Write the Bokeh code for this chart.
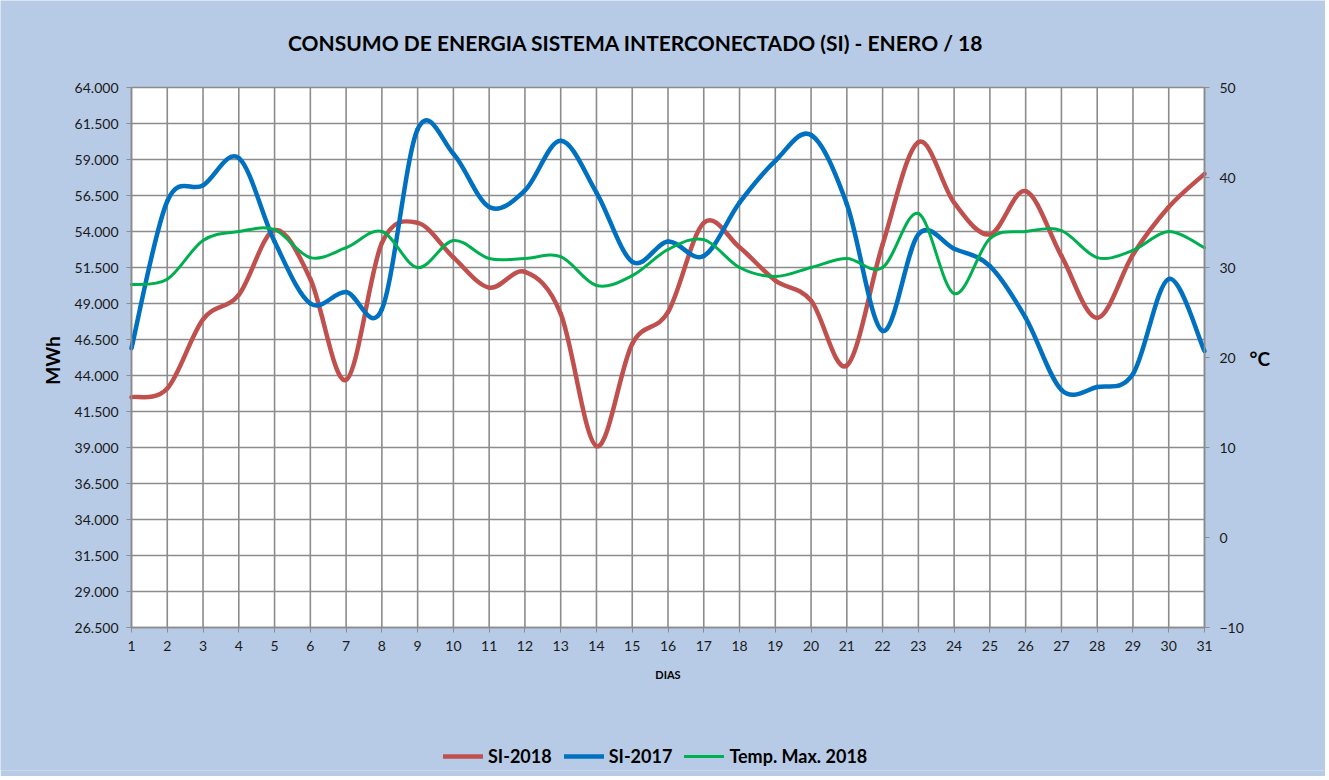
import math
from bokeh.plotting import figure
from bokeh.models import (Range1d, LinearAxis, FixedTicker, Legend, LegendItem,
                          ColumnDataSource, BoxAnnotation, Label)
from bokeh.embed import file_html
from bokeh.resources import INLINE

days = list(range(1, 32))
si_2018 = [42500, 43100, 47900, 49600, 54100, 50700, 43700, 53200, 54600, 52200,
           50100, 51200, 48300, 39100, 46200, 48400, 54600, 52900, 50600, 49200,
           44700, 53100, 60200, 56000, 53800, 56800, 52300, 48000, 52400, 55700, 58000]
si_2017 = [45900, 56100, 57200, 59100, 53300, 49000, 49800, 48600, 61100, 59400,
           55700, 56850, 60300, 56700, 51900, 53300, 52300, 56000, 58900, 60700,
           55900, 47100, 53800, 52800, 51600, 48000, 43000, 43200, 44100, 50700, 45700]
temp_max = [28.1, 28.7, 33.0, 34.0, 34.2, 31.1, 32.2, 34.0, 30.0, 33.0,
            31.0, 31.0, 31.2, 28.0, 29.1, 32.0, 33.1, 30.0, 29.0, 30.0,
            31.0, 30.0, 36.0, 27.1, 33.2, 34.0, 34.1, 31.1, 31.9, 34.0, 32.2]
mwh_ticks = [26500, 29000, 31500, 34000, 36500, 39000, 41500, 44000,
             46500, 49000, 51500, 54000, 56500, 59000, 61500, 64000]
mwh_labels = ["26.500", "29.000", "31.500", "34.000", "36.500", "39.000", "41.500", "44.000",
              "46.500", "49.000", "51.500", "54.000", "56.500", "59.000", "61.500", "64.000"]
temp_ticks = [-10, 0, 10, 20, 30, 40, 50]
series_names = ["SI-2018", "SI-2017", "Temp. Max. 2018"]
series_colors = ["#c0504d", "#0070c0", "#00b050"]

TITLE = "CONSUMO DE ENERGIA SISTEMA INTERCONECTADO (SI) -  ENERO / 18"
FONT = "Lato"
GRID = "#8c8c8c"
TXT = "#1a1a1a"
BG = "#b7cbe6"

# layout (pixels)
PLOT_W, PLOT_H = 1073, 540     # white plotting area
PAD_L, PAD_R = 131, 121        # room for the value axes
PAD_B = 143                    # room below for day labels, DIAS and legend
PAD_T = 87                     # room above for the title


def smooth_source(xs, ys):
    """Cubic Bezier segments (Catmull-Rom control points) between the data points,
    like a spreadsheet 'smoothed line'."""
    n = len(xs)
    d = dict(x0=[], y0=[], x1=[], y1=[], cx0=[], cy0=[], cx1=[], cy1=[])
    for i in range(n - 1):
        xp, yp = (xs[i - 1], ys[i - 1]) if i > 0 else (xs[i], ys[i])
        xn, yn = (xs[i + 2], ys[i + 2]) if i + 2 < n else (xs[i + 1], ys[i + 1])
        d["x0"].append(xs[i]); d["y0"].append(ys[i])
        d["x1"].append(xs[i + 1]); d["y1"].append(ys[i + 1])
        d["cx0"].append(xs[i] + (xs[i + 1] - xp) / 6.0)
        d["cy0"].append(ys[i] + (ys[i + 1] - yp) / 6.0)
        d["cx1"].append(xs[i + 1] - (xn - xs[i]) / 6.0)
        d["cy1"].append(ys[i + 1] - (yn - ys[i]) / 6.0)
    return ColumnDataSource(d)


x_lo, x_hi = days[0], days[-1]
y_lo, y_hi = mwh_ticks[0], mwh_ticks[-1]
t_lo, t_hi = temp_ticks[0], temp_ticks[-1]
dx = (x_hi - x_lo) / PLOT_W          # days per pixel
dy = (y_hi - y_lo) / PLOT_H          # MWh per pixel
dt = (t_hi - t_lo) / PLOT_H          # degC per pixel

p = figure(frame_width=PAD_L + PLOT_W + PAD_R, frame_height=PAD_T + PLOT_H + PAD_B,
           output_backend="svg", toolbar_location=None,
           x_range=Range1d(x_lo - PAD_L * dx, x_hi + PAD_R * dx),
           y_range=Range1d(y_lo - PAD_B * dy, y_hi + PAD_T * dy),
           min_border_left=0, min_border_right=0, min_border_top=0, min_border_bottom=6)
p.extra_y_ranges = {"temp": Range1d(t_lo - PAD_B * dt, t_hi + PAD_T * dt)}

p.border_fill_color = BG
p.background_fill_color = BG
p.outline_line_color = None

# white plotting area
p.add_layout(BoxAnnotation(left=x_lo, right=x_hi, bottom=y_lo, top=y_hi,
                           fill_color="white", fill_alpha=1, line_color=None, level="image"))

# title
p.add_layout(Label(x=x_lo + 507 * dx, y=y_hi + 45 * dy, text=TITLE,
                   text_font=FONT, text_font_size="21px", text_font_style="bold",
                   text_color="black", text_align="center", text_baseline="middle"))

# grid lines limited to the plotting area
p.xgrid.visible = False
p.ygrid.visible = False
p.segment(x0=days, x1=days, y0=[y_lo] * len(days), y1=[y_hi] * len(days),
          line_color=GRID, line_width=1.6, level="underlay")
p.segment(x0=[x_lo] * len(mwh_ticks), x1=[x_hi] * len(mwh_ticks), y0=mwh_ticks, y1=mwh_ticks,
          line_color=GRID, line_width=1.6, level="underlay")

# axes
p.xaxis.ticker = FixedTicker(ticks=days)
p.xaxis.axis_label = "DIAS"
p.xaxis.fixed_location = y_lo
p.xaxis.bounds = (x_lo, x_hi)
p.yaxis.ticker = FixedTicker(ticks=mwh_ticks)
p.yaxis.major_label_overrides = {t: l for t, l in zip(mwh_ticks, mwh_labels)}
p.yaxis.fixed_location = x_lo
p.yaxis.bounds = (y_lo, y_hi)

right = LinearAxis(y_range_name="temp", ticker=FixedTicker(ticks=temp_ticks),
                   bounds=(t_lo, t_hi), fixed_location=x_hi)
p.add_layout(right, "right")

for ax in (p.xaxis[0], p.yaxis[0], right):
    ax.axis_line_color = GRID
    ax.axis_line_width = 1.5
    ax.major_tick_line_color = GRID
    ax.major_tick_in = 0
    ax.major_tick_out = 5
    ax.minor_tick_line_color = None
    ax.major_label_text_font = FONT
    ax.major_label_text_font_size = "14px"
    ax.major_label_text_color = TXT
    ax.axis_label_text_font = FONT
    ax.axis_label_text_font_style = "bold"
    ax.axis_label_text_color = "black"

p.xaxis.major_label_standoff = 8
p.xaxis.axis_label_text_font_size = "11px"
p.xaxis.axis_label_standoff = 14
p.yaxis.major_label_standoff = 8
right.major_label_standoff = 10

# axis titles
p.add_layout(Label(x=x_lo - 79 * dx, y=y_hi - 273 * dy, text="MWh", angle=math.pi / 2,
                   text_font=FONT, text_font_size="19px", text_font_style="bold",
                   text_color="black", text_align="center", text_baseline="middle"))
p.add_layout(Label(x=x_hi + 45 * dx, y=y_hi - 271 * dy, text="°C",
                   text_font=FONT, text_font_size="19px", text_font_style="bold",
                   text_color="black", text_align="left", text_baseline="middle"))

# series
rs = []
for ys, color, width, rng in ((si_2018, series_colors[0], 4.5, "default"),
                              (si_2017, series_colors[1], 4.5, "default"),
                              (temp_max, series_colors[2], 3, "temp")):
    r = p.bezier(x0="x0", y0="y0", x1="x1", y1="y1", cx0="cx0", cy0="cy0",
                 cx1="cx1", cy1="cy1", source=smooth_source(days, ys),
                 line_color=color, line_width=width, line_cap="round", y_range_name=rng)
    rs.append(r)

legend = Legend(items=[LegendItem(label=n, renderers=[r]) for n, r in zip(series_names, rs)],
                orientation="horizontal", location=(443, 3),
                background_fill_alpha=0, border_line_alpha=0,
                label_text_font=FONT, label_text_font_style="bold", label_text_font_size="18px",
                label_text_color="black", glyph_width=40, glyph_height=20,
                label_height=20, label_standoff=5, spacing=12, padding=0, margin=0)
p.add_layout(legend)

open("out.html", "w").write(file_html(p, INLINE))
